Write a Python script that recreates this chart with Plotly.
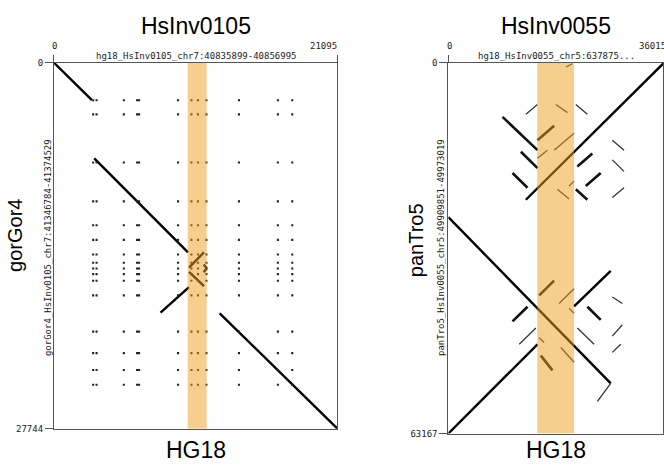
import plotly.graph_objects as go

W, H = 664, 465

# ---------------- Left panel: HsInv0105 (hg18 vs gorGor4) ----------------
left_title = "HsInv0105"
left_xlabel = "hg18_HsInv0105_chr7:40835899-40856995"
left_ylabel = "gorGor4_HsInv0105_chr7:41346784-41374529"
left_species = "gorGor4"
left_xmax = 21095
left_ymax = 27744
left_band = [9950, 11365]
# alignment segments (x0, y0, x1, y1) in bp
left_segments = [
    (0, 0, 2830, 2840),
    (3000, 7250, 9975, 14370),
    (10050, 15530, 11165, 14370),
    (10050, 15860, 11165, 16940),
    (10050, 17010, 7930, 18940),
    (11140, 15290, 11365, 15580),
    (11365, 15580, 11140, 15880),
    (12330, 18995, 21095, 27744),
]
# repeat dot rows / columns (bp)
left_dot_rows = [2842, 3917, 7568, 10512, 12317, 13430, 14543, 15159, 15604,
                 16027, 16524, 17637, 20382, 22014, 23298, 24411]
left_dot_cols = [2919, 3172, 5200, 6187, 6336, 9233, 10228, 10719, 11342,
                 13764, 16661, 17731]

# ---------------- Right panel: HsInv0055 (hg18 vs panTro5) ----------------
right_title = "HsInv0055"
right_xlabel = "hg18_HsInv0055_chr5:637875..."
right_ylabel = "panTro5_HsInv0055_chr5:49909851-49973019"
right_species = "panTro5"
right_xmax = 36015
right_ymax = 63167
right_xvisible = 35850
right_band = [14840, 21000]
right_main = [
    (12950, 23340, 36015, 0),
    (0, 26290, 27120, 54630),
    (0, 63167, 14890, 47960),
    (21000, 41510, 27120, 35460),
]
right_thick = [
    (9050, 9220, 14890, 14890),
    (10720, 18790, 13220, 21290),
    (21550, 17670, 24050, 15450),
    (22950, 21000, 25450, 18790),
    (21290, 21550, 23220, 23340),
    (12120, 15170, 14890, 17950),
    (14890, 13220, 17670, 10720),
    (10720, 44060, 13220, 41560),
    (15170, 39620, 17670, 37120),
    (23220, 41560, 25450, 43790),
    (15450, 49890, 17390, 52400),
]
right_thin = [
    (12950, 8790, 14890, 7120),
    (14890, 16290, 16550, 14890),
    (17670, 14890, 21000, 12000),
    (18220, 21550, 20170, 23220),
    (17950, 7120, 19890, 8500),
    (20170, 21000, 21000, 20170),
    (21290, 7120, 23220, 8790),
    (27390, 13220, 29340, 14890),
    (27390, 16550, 29340, 18500),
    (27390, 22960, 29340, 21290),
    (19620, 720, 20720, 170),
    (11840, 47960, 14620, 45180),
    (18500, 41010, 21000, 38510),
    (18790, 48510, 21000, 51010),
    (15170, 46840, 16000, 47680),
    (20170, 41840, 21000, 42670),
    (21550, 45180, 24340, 47960),
    (27390, 39890, 29060, 41010),
    (27390, 46560, 29060, 44630),
    (27390, 49340, 28790, 47960),
    (24890, 57680, 27120, 54630),
]

axis_x_label = "HG18"


def seg_xy(segs):
    xs, ys = [], []
    for x0, y0, x1, y1 in segs:
        xs += [x0, x1, None]
        ys += [y0, y1, None]
    return xs, ys


fig = go.Figure()

# left traces
xs, ys = seg_xy(left_segments)
fig.add_trace(go.Scatter(x=xs, y=ys, mode="lines", line=dict(color="black", width=2.4),
                         xaxis="x", yaxis="y", hoverinfo="skip"))
dx = [c for r in left_dot_rows for c in left_dot_cols]
dy = [r for r in left_dot_rows for c in left_dot_cols]
fig.add_trace(go.Scatter(x=dx, y=dy, mode="markers",
                         marker=dict(color="#222", size=2.1, symbol="square"),
                         xaxis="x", yaxis="y", hoverinfo="skip"))

# right traces
for segs, w, col in [(right_main, 2.4, "black"), (right_thick, 2.6, "#111"),
                     (right_thin, 1.3, "#333")]:
    xs, ys = seg_xy(segs)
    fig.add_trace(go.Scatter(x=xs, y=ys, mode="lines", line=dict(color=col, width=w),
                             xaxis="x2", yaxis="y2", hoverinfo="skip"))

band_color = "rgba(237,160,30,0.5)"
fig.add_shape(type="rect", xref="x", yref="y", x0=left_band[0], x1=left_band[1],
              y0=0, y1=left_ymax, fillcolor=band_color, line=dict(width=0), layer="above")
fig.add_shape(type="rect", xref="x2", yref="y2", x0=right_band[0], x1=right_band[1],
              y0=0, y1=right_ymax, fillcolor=band_color, line=dict(width=0), layer="above")

mono = dict(family="DejaVu Sans Mono", size=9, color="#222")
sans_big = dict(family="Liberation Sans, Arial", size=23, color="black")
sans_side = dict(family="Liberation Sans, Arial", size=20, color="black")

def px(x):
    return x / W

def py(y):
    return 1 - y / H

L_left, L_right, L_top, L_bot = 54, 338, 59, 433
R_left, R_right, R_top, R_bot = 449, 665, 59, 438

common_x = dict(showline=True, mirror=True, linecolor="#555", linewidth=1,
                ticks="outside", ticklen=7, tickcolor="#555", showticklabels=False,
                showgrid=False, zeroline=False, side="top")
common_y = dict(showline=True, mirror=True, linecolor="#555", linewidth=1,
                ticks="outside", ticklen=8, tickcolor="#555", showticklabels=True,
                tickfont=mono, showgrid=False, zeroline=False)

fig.update_layout(
    width=W, height=H, margin=dict(l=0, r=0, t=0, b=0),
    paper_bgcolor="white", plot_bgcolor="white", showlegend=False,
    xaxis=dict(domain=[px(L_left), px(L_right)], range=[0, left_xmax], anchor="y",
               tickvals=[0, left_xmax], **common_x),
    yaxis=dict(domain=[py(L_bot), py(L_top)], range=[left_ymax, 0], anchor="x",
               tickvals=[0, left_ymax], ticktext=["0", str(left_ymax)], **common_y),
    xaxis2=dict(domain=[px(R_left), 1.0], range=[0, right_xvisible], anchor="y2",
                tickvals=[0, right_xmax], **common_x),
    yaxis2=dict(domain=[py(R_bot), py(R_top)], range=[right_ymax, 0], anchor="x2",
                tickvals=[0, right_ymax], ticktext=["0", str(right_ymax)], **common_y),
)

ann = []
def A(text, x, y, font, angle=0, xanchor="center"):
    ann.append(dict(text=text, x=px(x), y=py(y), xref="paper", yref="paper",
                    showarrow=False, font=font, textangle=angle,
                    xanchor=xanchor, yanchor="middle"))

# left panel texts
A(left_title, (L_left + L_right) / 2, 21, sans_big)
A(axis_x_label, (L_left + L_right) / 2, 455, sans_big)
A(left_species, 15, 235, sans_side, -90)
A(left_ylabel, 47.5, 248, mono, -90)
A(left_xlabel, (L_left + L_right) / 2, 52, mono)
A("0", 55, 42, mono)
A(str(left_xmax), 340, 42, mono, xanchor="right")

# right panel texts
A(right_title, (R_left + R_right) / 2, 21, sans_big)
A(axis_x_label, (R_left + R_right) / 2, 455, sans_big)
A(right_species, 416, 240, sans_side, -90)
A(right_ylabel, 441, 248, mono, -90)
A(right_xlabel, (R_left + R_right) / 2, 52, mono)
A("0", 450, 42, mono)
A(str(right_xmax), 669, 42, mono, xanchor="right")

fig.update_layout(annotations=ann)
fig.write_html("out.html")
